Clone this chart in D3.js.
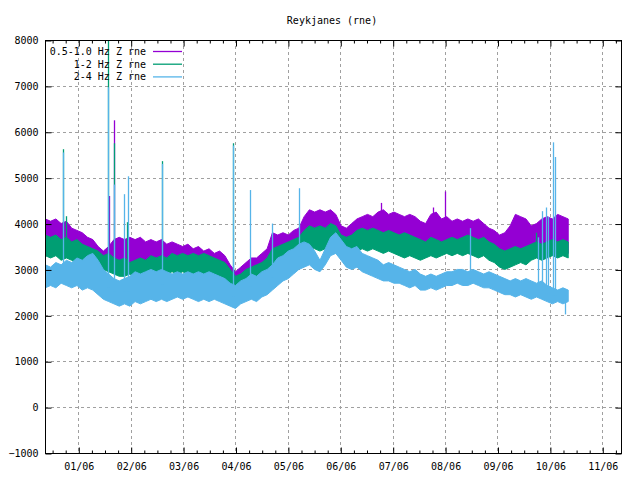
<!DOCTYPE html>
<html>
<head>
<meta charset="utf-8">
<script src="https://cdn.jsdelivr.net/npm/d3@7"></script>
<style>
  body { margin: 0; background: #fff; }
  svg text { font-family: "DejaVu Sans Mono", monospace; font-size: 10px; fill: #000; }
</style>
</head>
<body>
<div id="chart"></div>
<script>
// x is measured in months from the 01/06 tick (0 = 01/06, 1 = 02/06 ...)
const monthLabels = ['01/06', '02/06', '03/06', '04/06', '05/06', '06/06', '07/06', '08/06', '09/06', '10/06', '11/06'];
const yTicks = [-1000, 0, 1000, 2000, 3000, 4000, 5000, 6000, 7000, 8000];
const seriesNames = ['0.5-1.0 Hz Z rne', '1-2 Hz Z rne', '2-4 Hz Z rne'];

// samples are evenly spaced from the first to the last reading
const sampleStart = -0.63;
const sampleEnd = 9.35;

// band envelopes (upper / lower edge of the noisy trace)
const purpleHi = [4100,4050,4100,4000,4050,3900,3850,3800,3700,3650,
  3500,3400,3500,3650,3700,3650,3700,3650,3700,3600,
  3650,3600,3650,3550,3600,3550,3500,3550,3450,3500,
  3400,3450,3350,3400,3300,3100,2950,3050,3150,3250,
  3250,3350,3450,3800,3750,3800,3750,3850,3900,4150,
  4300,4250,4300,4250,4300,4200,3950,3900,4000,4100,
  4150,4200,4150,4250,4300,4200,4250,4200,4150,4200,
  4150,4050,4000,4200,4250,4100,4150,4050,4100,4050,
  4100,4050,4100,4000,3900,3850,3750,3800,3950,4200,
  4150,4100,3950,4000,4100,4150,4100,4200,4150,4100];
const purpleLo = [3500,3450,3500,3400,3450,3350,3400,3300,3250,3200,
  3150,3050,3100,3000,2950,3000,2900,2950,3000,2950,
  3050,3000,3050,3000,3100,3050,3100,3050,3100,3050,
  3100,3050,3000,2950,2900,2750,2600,2650,2750,2800,
  2850,2900,3000,3200,3250,3300,3350,3400,3450,3600,
  3700,3650,3700,3650,3750,3700,3500,3450,3500,3600,
  3650,3600,3650,3600,3550,3600,3550,3500,3550,3500,
  3450,3400,3350,3450,3400,3350,3400,3450,3400,3450,
  3500,3450,3400,3450,3350,3300,3200,3150,3200,3250,
  3200,3250,3300,3350,3300,3350,3400,3350,3400,3350];

const greenHi = [3750,3700,3750,3650,3700,3600,3650,3550,3500,3450,
  3400,3300,3350,3250,3200,3250,3150,3200,3250,3200,
  3300,3250,3300,3250,3350,3300,3350,3300,3350,3300,
  3350,3300,3250,3200,3150,3000,2850,2900,3000,3050,
  3100,3150,3250,3450,3500,3550,3600,3650,3700,3850,
  3950,3900,3950,3900,4000,3950,3750,3700,3750,3850,
  3900,3850,3900,3850,3800,3850,3800,3750,3800,3750,
  3700,3650,3600,3700,3650,3600,3650,3700,3650,3700,
  3750,3700,3650,3700,3600,3550,3450,3400,3450,3500,
  3450,3500,3550,3600,3550,3600,3650,3600,3650,3600];
const greenLo = [3300,3250,3300,3200,3250,3200,3150,3200,3150,3100,
  3050,3000,2950,2900,2850,2850,2900,2850,2900,2850,
  2900,2850,2950,2900,2950,2900,2950,2900,2850,2900,
  2850,2800,2850,2800,2750,2650,2600,2650,2700,2750,
  2800,2850,2900,3050,3100,3200,3250,3300,3350,3450,
  3500,3450,3400,3450,3500,3450,3350,3300,3350,3400,
  3450,3400,3450,3400,3350,3400,3350,3300,3250,3300,
  3250,3200,3250,3300,3250,3300,3350,3300,3350,3300,
  3350,3300,3250,3300,3200,3150,3050,3000,3050,3100,
  3150,3100,3200,3250,3200,3250,3300,3250,3300,3250];

const blueHi = [3100,3050,3150,3100,3200,3150,3250,3200,3300,3350,
  3200,3000,2900,2800,2750,2800,2850,2950,2900,2950,
  3000,2950,3000,2950,2900,2950,2900,2950,2900,2950,
  2900,2950,2900,2850,2800,2700,2650,2750,2800,2900,
  2850,2950,3000,3100,3250,3300,3400,3450,3550,3600,
  3550,3400,3200,3450,3700,3800,3650,3500,3450,3500,
  3350,3300,3250,3200,3100,3150,3100,3050,3000,2950,
  3000,2900,2850,2900,2850,2900,2950,2950,3000,3000,
  2950,3000,2950,2900,2950,2900,2850,2800,2750,2800,
  2750,2800,2750,2700,2750,2650,2600,2550,2600,2550];
const blueLo = [2600,2650,2600,2700,2650,2600,2650,2550,2600,2550,
  2450,2350,2300,2250,2200,2250,2200,2300,2250,2300,
  2350,2300,2350,2300,2350,2400,2350,2400,2350,2300,
  2350,2300,2350,2300,2250,2200,2150,2250,2300,2350,
  2300,2400,2450,2550,2650,2750,2800,2900,3000,3050,
  3100,3000,2950,3100,3300,3350,3200,3050,3000,3050,
  2950,2900,2850,2800,2750,2750,2700,2700,2650,2600,
  2650,2550,2550,2600,2550,2600,2650,2650,2700,2650,
  2650,2700,2650,2600,2600,2550,2500,2450,2450,2400,
  2450,2400,2350,2400,2350,2300,2250,2300,2250,2300];

// isolated spikes: [month position, value]
const purpleSpikes = [[0.59, 4600], [0.69, 6250], [5.77, 4450], [6.76, 4350], [7.0, 4700]];
const greenSpikes = [[-0.29, 5620], [-0.23, 4160], [0.57, 8300], [0.69, 5750], [0.935, 4030], [1.60, 5360], [2.96, 5750], [8.73, 3800]];
const blueSpikes = [[-0.29, 5550], [0.57, 6970], [0.69, 4850], [0.88, 4640], [0.95, 5030], [1.60, 5300], [2.96, 5700],
  [3.28, 4730], [3.69, 4000], [4.22, 4770], [7.48, 3900], [8.77, 3700], [8.84, 4270], [8.92, 4350], [8.96, 4150],
  [9.05, 5770], [9.10, 5450]];
const blueDips = [[9.29, 2020]];

const colors = ['#9400d3', '#009e73', '#56b4e9'];

const width = 640, height = 480;
const margin = { top: 40, right: 19, bottom: 27, left: 45 };
const plotW = width - margin.left - margin.right;
const plotH = height - margin.top - margin.bottom;

const svg = d3.select('#chart')
  .append('svg')
  .attr('width', width)
  .attr('height', height);

const g = svg.append('g')
  .attr('transform', `translate(${margin.left},${margin.top})`);

const x = d3.scaleLinear()
  .domain([-0.6355, 10.357])
  .range([0, plotW]);

const y = d3.scaleLinear()
  .domain([-1000, 8000])
  .range([plotH, 0]);

// title
svg.append('text')
  .attr('x', 332)
  .attr('y', 20)
  .attr('dy', '0.35em')
  .attr('text-anchor', 'middle')
  .text('Reykjanes (rne)');

// grid
g.append('g')
  .selectAll('line')
  .data(yTicks.filter(v => v > -1000 && v < 8000))
  .join('line')
  .attr('x1', 0).attr('x2', plotW)
  .attr('y1', d => Math.round(y(d)) + 0.5).attr('y2', d => Math.round(y(d)) + 0.5)
  .attr('stroke', '#a0a0a0')
  .attr('stroke-dasharray', '3,3');

g.append('g')
  .selectAll('line')
  .data(d3.range(monthLabels.length))
  .join('line')
  .attr('x1', d => Math.round(x(d)) + 0.5).attr('x2', d => Math.round(x(d)) + 0.5)
  .attr('y1', 0).attr('y2', plotH)
  .attr('stroke', '#a0a0a0')
  .attr('stroke-dasharray', '3,3');

// data
g.append('clipPath').attr('id', 'clip')
  .append('rect').attr('width', plotW).attr('height', plotH);
const plot = g.append('g').attr('clip-path', 'url(#clip)');

const step = (sampleEnd - sampleStart) / (purpleHi.length - 1);
const tAt = i => sampleStart + i * step;

function drawSeries(hi, lo, spikes, color) {
  const rows = hi.map((h, i) => ({ t: tAt(i), hi: h, lo: lo[i] }));
  const area = d3.area()
    .x(d => x(d.t))
    .y0(d => y(d.lo))
    .y1(d => y(d.hi));
  plot.append('path')
    .datum(rows)
    .attr('d', area)
    .attr('fill', color)
    .attr('stroke', color)
    .attr('stroke-width', 1);

  plot.append('g')
    .selectAll('line')
    .data(spikes)
    .join('line')
    .attr('x1', d => Math.round(x(d[0])) + 0.5)
    .attr('x2', d => Math.round(x(d[0])) + 0.5)
    .attr('y1', d => y(d[1]))
    .attr('y2', d => {
      const i = Math.max(0, Math.min(hi.length - 1, Math.round((d[0] - sampleStart) / step)));
      return y((hi[i] + lo[i]) / 2);
    })
    .attr('stroke', color)
    .attr('stroke-width', 1.3);
}

drawSeries(purpleHi, purpleLo, purpleSpikes, colors[0]);
drawSeries(greenHi, greenLo, greenSpikes, colors[1]);
drawSeries(blueHi, blueLo, blueSpikes.concat(blueDips), colors[2]);

// border
g.append('rect')
  .attr('x', 0.5).attr('y', 0.5)
  .attr('width', plotW).attr('height', plotH)
  .attr('fill', 'none')
  .attr('stroke', '#000');

// axes (ticks point inward, mirrored like gnuplot)
const minorTicks = d3.range(-2, 42).map(q => q / 4).filter(v => v > -0.63 && v < 10.35 && v % 1 !== 0);

const xAxis = d3.axisBottom(x)
  .tickValues(d3.range(monthLabels.length))
  .tickFormat(i => monthLabels[i])
  .tickSize(-6)
  .tickPadding(9);
g.append('g')
  .attr('transform', `translate(0.5,${plotH + 0.5})`)
  .call(xAxis);

g.append('g')
  .attr('transform', `translate(0.5,${plotH + 0.5})`)
  .call(d3.axisBottom(x).tickValues(minorTicks).tickSize(-3).tickFormat(''));
g.append('g')
  .attr('transform', 'translate(0.5,0.5)')
  .call(d3.axisTop(x).tickValues(d3.range(monthLabels.length)).tickSize(-6).tickFormat(''));
g.append('g')
  .attr('transform', 'translate(0.5,0.5)')
  .call(d3.axisTop(x).tickValues(minorTicks).tickSize(-3).tickFormat(''));

g.append('g')
  .attr('transform', 'translate(0.5,0.5)')
  .call(d3.axisLeft(y).tickValues(yTicks).tickFormat(d3.format('d')).tickSize(-6).tickPadding(7));
g.append('g')
  .attr('transform', `translate(${plotW + 0.5},0.5)`)
  .call(d3.axisRight(y).tickValues(yTicks).tickSize(-6).tickFormat(''));

g.selectAll('.domain').remove();
g.selectAll('.tick line').attr('stroke', '#000');
g.selectAll('.tick text').style('font-family', '"DejaVu Sans Mono", monospace').style('font-size', '10px');

// legend
const legend = g.selectAll('.legend')
  .data(seriesNames)
  .join('g')
  .attr('class', 'legend')
  .attr('transform', (d, i) => `translate(0,${11.5 + i * 12.7})`);

legend.append('text')
  .attr('x', 146 - margin.left)
  .attr('dy', '0.35em')
  .attr('text-anchor', 'end')
  .text(d => d);

legend.append('line')
  .attr('x1', 153 - margin.left)
  .attr('x2', 182 - margin.left)
  .attr('stroke', (d, i) => colors[i])
  .attr('stroke-width', 1.3);
</script>
</body>
</html>
